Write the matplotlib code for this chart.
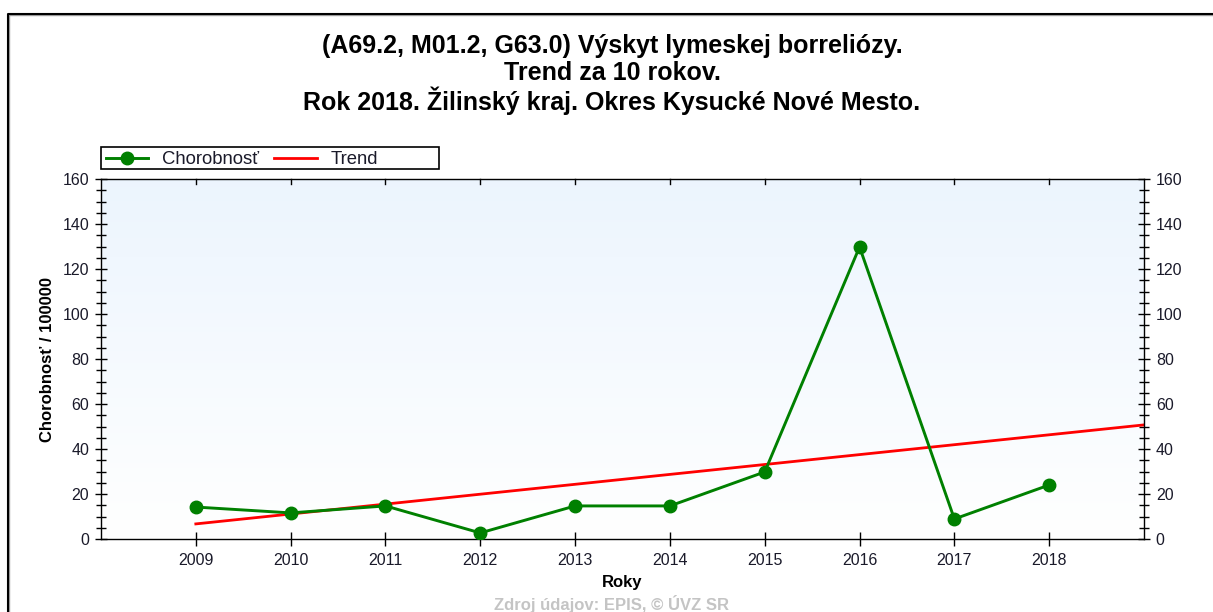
import numpy as np
import matplotlib
matplotlib.use("Agg")
import matplotlib.pyplot as plt
from matplotlib.lines import Line2D
from matplotlib.patches import Rectangle
from matplotlib.ticker import MultipleLocator

plt.rcParams['font.family'] = ['Liberation Sans', 'DejaVu Sans']

years = [2009, 2010, 2011, 2012, 2013, 2014, 2015, 2016, 2017, 2018]
morbidity = [14.2, 11.6, 14.7, 2.7, 14.7, 14.7, 29.8, 129.8, 8.9, 24.0]
title_lines = [
    "(A69.2, M01.2, G63.0) Výskyt lymeskej borreliózy.",
    "Trend za 10 rokov.",
    "Rok 2018. Žilinský kraj. Okres Kysucké Nové Mesto.",
]

W, H = 1213, 612
fig = plt.figure(figsize=(W / 100, H / 100), dpi=100)
ax = fig.add_axes([101 / W, 1 - 539 / H, (1144 - 101) / W, (539 - 179) / H])

# linear trend across the ten years, extended to the right edge
x = np.array(years, dtype=float)
y = np.array(morbidity)
k, q = np.polyfit(x, y, 1)
xt = np.array([years[0], years[-1] + 1], dtype=float)

ax.set_xlim(years[0] - 1, years[-1] + 1)
ax.set_ylim(0, 160)

# vertical gradient background
grad = np.linspace(0, 1, 256)[:, None]
c_top = np.array([0.925, 0.96, 0.995])
c_bot = np.array([1.0, 1.0, 1.0])
img = c_bot[None, None, :] * (1 - grad[:, :, None]) + c_top[None, None, :] * grad[:, :, None]
ax.imshow(img, extent=[years[0] - 1, years[-1] + 1, 0, 160], origin='lower',
          aspect='auto', zorder=0, interpolation='bilinear')

ax.plot(xt, k * xt + q, color='#ff0000', lw=2.0, zorder=2, label='Trend')
ax.plot(years, morbidity, color='#008000', lw=2.1, marker='o', ms=9,
        zorder=3, label='Chorobnosť')

ax.set_xticks(years)
ax.set_xticklabels([str(v) for v in years])
ax.yaxis.set_major_locator(MultipleLocator(20))
ax.yaxis.set_minor_locator(MultipleLocator(5))

ax.tick_params(axis='y', which='major', direction='inout', length=9, width=1,
               left=True, right=True, labelleft=True, labelright=True,
               labelsize=11.5, labelcolor='#1a1a2a', pad=4)
ax.tick_params(axis='y', which='minor', direction='inout', length=6.5, width=1,
               left=True, right=True)
ax.tick_params(axis='x', which='major', direction='inout', length=10, width=1,
               bottom=True, top=False, labelsize=11.5, labelcolor='#1a1a2a', pad=5)
for t in years:
    ax.plot([t, t], [160, 160 - 2.2], color='black', lw=1, zorder=4, clip_on=False)

for s in ax.spines.values():
    s.set_linewidth(1)
    s.set_color('black')

ax.set_ylabel("Chorobnosť / 100000", fontsize=12, fontweight='bold', labelpad=5)
ax.set_xlabel("Roky", fontsize=12, fontweight='bold', labelpad=5)

# legend: entries without frame, plus a fixed-size box around them
handles = [
    Line2D([], [], color='#008000', lw=2.1, marker='o', ms=9),
    Line2D([], [], color='#ff0000', lw=2.0),
]
leg = ax.legend(handles, ['Chorobnosť', 'Trend'], loc='center left',
                bbox_to_anchor=(5 / 1043, (539 - 159.5) / 360), ncol=2,
                fontsize=13.3, frameon=False, borderaxespad=0, borderpad=0,
                handlelength=2.3, handletextpad=0.75, columnspacing=0.8)
for t in leg.get_texts():
    t.set_color('#1a1a2a')
ax.add_patch(Rectangle((0, (539 - 169) / 360), 338 / 1043, 22 / 360,
                       transform=ax.transAxes, fill=False, edgecolor='black',
                       lw=1.2, clip_on=False, zorder=5))

for i, line in enumerate(title_lines):
    fig.text(612 / W, 1 - (46 + 27.5 * i) / H, line, ha='center', va='center',
             fontsize=18, fontweight='bold', color='black')

fig.text(612 / W, 1 - 604 / H, "Zdroj údajov: EPIS, © ÚVZ SR", ha='center',
         va='center', fontsize=12, fontweight='bold', color='#c4c4c4')

# outer frame (left and top edges)
fig.add_artist(Line2D([8.5 / W, 8.5 / W, 1], [0, 1 - 14.5 / H, 1 - 14.5 / H],
                      color='#a0a0a0', lw=1.0, transform=fig.transFigure))
fig.add_artist(Line2D([7.5 / W, 7.5 / W, 1], [0, 1 - 13.5 / H, 1 - 13.5 / H],
                      color='black', lw=1.5, transform=fig.transFigure))

fig.savefig("out.png", dpi=100)
